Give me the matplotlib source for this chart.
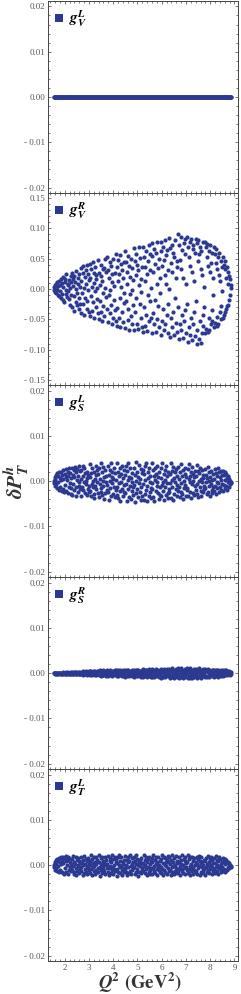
import matplotlib.pyplot as plt
from matplotlib.ticker import MultipleLocator, FuncFormatter

# Q^2 values (GeV^2), shared by all panels
q2 = [
    1.55, 1.56, 1.58, 1.59, 1.61, 1.63, 1.64, 1.66, 1.68, 1.70, 1.71, 1.73, 1.75, 1.77, 1.79, 1.81, 1.83, 1.86, 1.88, 1.90,
    1.92, 1.94, 1.95, 1.98, 2.00, 2.01, 2.04, 2.06, 2.07, 2.10, 2.12, 2.13, 2.15, 2.17, 2.19, 2.21, 2.22, 2.24, 2.26, 2.27,
    2.29, 2.31, 2.33, 2.34, 2.37, 2.39, 2.40, 2.43, 2.45, 2.46, 2.48, 2.50, 2.52, 2.54, 2.55, 2.57, 2.59, 2.61, 2.62, 2.64,
    2.66, 2.68, 2.69, 2.72, 2.74, 2.75, 2.77, 2.79, 2.81, 2.83, 2.84, 2.86, 2.88, 2.90, 2.92, 2.93, 2.95, 2.97, 2.99, 3.01,
    3.03, 3.04, 3.06, 3.08, 3.10, 3.12, 3.13, 3.15, 3.17, 3.19, 3.21, 3.22, 3.24, 3.26, 3.28, 3.30, 3.31, 3.33, 3.35, 3.37,
    3.39, 3.41, 3.42, 3.44, 3.46, 3.48, 3.50, 3.51, 3.53, 3.55, 3.57, 3.59, 3.60, 3.62, 3.64, 3.66, 3.68, 3.69, 3.71, 3.73,
    3.76, 3.77, 3.79, 3.81, 3.83, 3.85, 3.86, 3.88, 3.90, 3.92, 3.94, 3.95, 3.97, 3.99, 4.01, 4.03, 4.04, 4.06, 4.08, 4.10,
    4.12, 4.14, 4.16, 4.17, 4.19, 4.21, 4.23, 4.25, 4.26, 4.28, 4.30, 4.32, 4.34, 4.35, 4.37, 4.39, 4.41, 4.43, 4.44, 4.46,
    4.49, 4.50, 4.52, 4.54, 4.56, 4.58, 4.59, 4.61, 4.63, 4.65, 4.67, 4.68, 4.70, 4.72, 4.74, 4.76, 4.77, 4.79, 4.81, 4.83,
    4.86, 4.87, 4.89, 4.91, 4.93, 4.95, 4.96, 4.98, 5.00, 5.02, 5.04, 5.05, 5.07, 5.09, 5.11, 5.13, 5.14, 5.16, 5.18, 5.20,
    5.23, 5.24, 5.26, 5.28, 5.30, 5.32, 5.33, 5.35, 5.37, 5.39, 5.41, 5.42, 5.44, 5.46, 5.48, 5.50, 5.51, 5.53, 5.55, 5.57,
    5.59, 5.61, 5.62, 5.64, 5.66, 5.68, 5.70, 5.71, 5.73, 5.75, 5.77, 5.79, 5.80, 5.82, 5.84, 5.86, 5.88, 5.89, 5.91, 5.93,
    5.96, 5.97, 5.99, 6.01, 6.03, 6.05, 6.06, 6.08, 6.10, 6.12, 6.14, 6.15, 6.17, 6.19, 6.21, 6.23, 6.24, 6.26, 6.28, 6.30,
    6.32, 6.34, 6.35, 6.37, 6.39, 6.41, 6.43, 6.44, 6.46, 6.48, 6.50, 6.52, 6.53, 6.55, 6.57, 6.59, 6.61, 6.62, 6.64, 6.66,
    6.69, 6.70, 6.72, 6.74, 6.76, 6.78, 6.79, 6.81, 6.83, 6.85, 6.87, 6.88, 6.90, 6.92, 6.94, 6.96, 6.97, 6.99, 7.01, 7.03,
    7.06, 7.07, 7.09, 7.11, 7.13, 7.15, 7.16, 7.18, 7.20, 7.22, 7.24, 7.25, 7.27, 7.29, 7.31, 7.33, 7.34, 7.36, 7.38, 7.40,
    7.42, 7.44, 7.45, 7.47, 7.49, 7.51, 7.53, 7.54, 7.56, 7.58, 7.60, 7.62, 7.63, 7.65, 7.67, 7.69, 7.71, 7.72, 7.74, 7.76,
    7.79, 7.80, 7.82, 7.84, 7.86, 7.88, 7.89, 7.91, 7.93, 7.95, 7.97, 7.98, 8.00, 8.02, 8.04, 8.06, 8.07, 8.09, 8.11, 8.13,
    8.16, 8.17, 8.19, 8.21, 8.23, 8.25, 8.26, 8.28, 8.30, 8.32, 8.34, 8.35, 8.37, 8.39, 8.41, 8.43, 8.44, 8.46, 8.48, 8.50,
    8.52, 8.54, 8.55, 8.57, 8.59, 8.61, 8.63, 8.64, 8.66, 8.68, 8.70, 8.72, 8.73, 8.75, 8.77, 8.79, 8.81, 8.82, 8.84, 8.87,
]

# g_V^L : all points sit on zero
gVL = [0.0] * len(q2)

# g_V^R  (units of 1e-3)
gVR = [
    3, -2, 6, 0, -5, 9, -7, 2, -1, 11, -9, 5, 14, -12, 7, -4, 16, -15, 10, -8,
    20, -18, 4, -22, 12, 17, -8, -1, 24, -13, 9, -4, 6, -16, 15, -26, 1, 21, -10, 11,
    26, -30, 5, 16, -36, -11, 22, 12, -21, 0, 30, -27, -6, 18, 9, -33, 24, -15, 3, -24,
    35, -40, 13, -7, 27, -25, 38, 1, -43, 20, -14, 31, 8, -32, 40, -19, 24, -2, -37, 15,
    42, -44, 18, -11, 33, 4, -36, 44, -22, 27, -47, 10, 37, -4, -29, 16, 23, -17, 1, -40,
    47, -50, 26, -19, 7, 40, -38, 21, -53, 14, 33, -28, -7, 35, -45, 2, 49, -13, 28, -32,
    53, -55, 31, -9, 18, -40, 44, -1, -26, 38, -57, 11, 24, -48, 50, -18, 5, -34, 27, -52,
    58, -60, 36, -31, 13, 48, -47, 24, -14, 56, -63, 4, 41, -38, 31, -54, 18, -23, 45, -6,
    62, -64, 44, -19, 28, 9, -51, 55, -33, 38, -67, 20, -8, 50, -44, 34, -58, -1, 15, -26,
    67, -68, 46, -38, 23, 58, -14, 40, -57, 31, -65, 7, 69, -24, 51, -48, 17, -5, 36, -62,
    70, -70, 52, -29, 37, -60, 13, 62, -43, 25, -69, 46, -10, 72, -53, 32, -19, 57, 2, -47,
    75, -73, 55, -39, 28, 66, -58, 42, -18, 60, -71, 9, 77, -49, 35, -28, 50, -63, 19, -7,
    78, -76, 62, -53, 38, 70, -33, 47, -68, 23, 81, -58, 9, 56, -43, 65, -24, 32, -73, 0,
    84, -79, 67, -48, 43, 73, -63, 28, -38, 59, -76, 52, -14, 80, -56, 18, 46, -70, 36, -29,
    90, -83, 72, -58, 48, 85, -68, 33, -43, 65, -80, 19, 76, -53, 57, -34, 82, -73, 9, -24,
    86, -87, 70, -63, 52, 78, -76, 38, -48, 82, -84, 28, 66, -58, 73, -38, 14, -78, 60, -19,
    83, -90, 75, -68, 46, 80, -83, 58, -53, 70, -88, 33, 63, -73, 23, -43, 77, -60, 4, -29,
    78, -73, 70, -66, 53, 74, -70, 38, -48, 63, -68, 28, 72, -58, 43, -34, 60, -53, 18, -9,
    70, -63, 58, -56, 43, 66, -60, 33, -46, 53, -58, 23, 60, -38, 13, -50, 46, -28, 36, -4,
    52, -48, 40, -43, 33, 46, -38, 18, -33, 36, -28, 8, 28, -26, 22, -18, 16, -10, 6, 1,
]

# g_S^L  (units of 1e-4)
gSL = [
    1, -4, 9, -11, 5, 14, -7, -1, 17, -15, 11, -3, 19, -19, 7, -13, 21, 3, -21, 13,
    24, -18, 5, -25, 16, -8, 26, 10, -22, 2, 20, -27, 12, -12, 28, -4, 18, -28, 7, -15,
    30, -30, 14, -6, 25, -20, 8, 31, -14, 19, -32, 3, 27, -25, 11, -10, 33, -2, 22, -17,
    25, -34, 4, -13, 33, -20, 11, -3, 28, -27, 18, -6, 0, 21, -31, 7, -17, 14, -24, -10,
    37, -22, 9, -33, 17, -6, 29, -14, 1, -37, 21, -29, 5, -10, 33, -18, 13, -2, 25, -26,
    16, -35, 28, -7, 4, -23, 39, -15, 20, -31, 0, -11, 32, -39, 8, -27, 24, -3, 12, -19,
    -8, 33, -24, 13, -41, 1, 25, -16, 40, -32, 9, -4, 21, -28, 5, -12, 29, -36, 17, -20,
    3, -30, 41, -13, 19, -38, 11, -5, 28, -21, -43, 15, -1, 33, -17, 7, -34, 24, -9, -25,
    14, -26, 34, -6, -45, 23, 2, -18, 41, -35, 10, -10, 28, -40, 6, -22, 18, -2, -31, -14,
    -9, 30, -46, 13, 0, -27, 42, -18, 21, -36, 8, -5, 35, -23, 4, -41, 26, -14, 17, -32,
    24, -7, -41, 15, 33, -28, 2, -19, 40, -11, -45, 19, 6, -32, 28, -2, -24, 11, -37, -15,
    -18, 41, -5, 25, -35, 12, -44, 3, 29, -22, 16, -10, -1, 34, -27, 8, -39, 20, -14, -31,
    7, -34, 28, -9, 40, -22, -1, 16, -42, 24, -13, 3, -30, 33, -5, 11, -26, 20, -38, -18,
    -25, 15, -5, 39, -37, 3, 23, -13, -41, 31, 7, -29, 19, -1, -17, 27, -9, 11, -33, -21,
    32, -12, 4, -36, 20, -24, 38, -4, -28, 12, -40, 24, 0, -16, 28, -8, 16, -32, 8, -20,
    -15, 27, -34, 4, 37, -23, 12, -3, -38, 19, -7, 31, -26, 1, 16, -30, 8, -11, 23, -19,
    11, -28, 35, -7, 22, -36, 0, 18, -14, 29, -21, 4, -32, 25, -3, 14, -25, 7, -10, -18,
    -16, 27, -3, 13, -29, 6, 32, -23, 0, -10, 20, -33, 10, -6, 23, -19, 3, -26, 16, -13,
    5, -22, 26, -10, 17, -28, -1, 11, -16, 29, -4, 20, -25, 8, -13, 23, 2, -19, 14, -7,
    23, -22, 13, -9, 19, -16, 3, 16, -11, 7, -19, 11, -1, 9, -14, 5, -7, 1, -5, -3,
]

# g_S^R  (units of 1e-4)
gSR = [
    0, 1, -1, 0, 1, -1, 0, 1, -1, 0, 1, -1, 1, 0, -1, 1, -1, 0, 1, -1,
    1, -1, 2, 0, -2, 1, -1, 2, -2, 0, 1, -1, 2, -2, 1, 0, -1, 2, -2, 1,
    2, -2, 1, -1, 3, -3, 0, 2, -2, 3, -1, 1, -3, 2, 0, -2, 3, -3, 1, -1,
    3, -3, 1, -2, 4, -4, 0, 2, -1, 3, -3, 4, -2, 1, -4, 2, 0, -3, 4, -1,
    4, -4, 2, -2, 5, -5, 0, 3, -1, 4, -3, 5, -4, 1, -5, 2, -2, 4, 0, -3,
    5, -5, 2, -3, 6, -6, 1, 4, -2, 5, -4, 6, -5, 0, 3, -1, 5, -6, 2, -3,
    6, -6, 3, -3, 5, -5, 1, 6, -2, 4, -6, 2, -4, 0, 5, -1, 3, -5, 6, -2,
    7, -7, 3, -4, 6, -6, 1, 5, -2, 7, -5, 2, -3, 4, -7, 0, 6, -1, 3, -6,
    7, -8, 4, -4, 6, -6, 2, 7, -3, 5, -7, 1, -5, 3, -2, 8, -6, 0, 4, -1,
    8, -8, 4, -5, 7, -7, 2, 6, -3, 8, -6, 1, -4, 5, -2, 3, -8, 0, 7, -1,
    9, -9, 5, -5, 7, -7, 2, 8, -3, 6, -8, 1, -4, 9, -6, 3, -2, 4, -9, 0,
    9, -9, 5, -6, 8, -8, 2, 7, -3, 9, -7, 1, -5, 4, -2, 6, -9, 0, 3, -4,
    10, -10, 5, -6, 8, -8, 3, 9, -4, 7, -9, 1, -5, 4, -2, 10, -7, 0, 6, -3,
    10, -10, 6, -6, 8, -9, 2, 11, -4, 7, -10, 1, -5, 4, -3, 9, -8, 0, 5, -2,
    11, -11, 6, -7, 9, -9, 3, 12, -4, 8, -10, 1, -6, 5, -2, 10, -8, 0, 7, -3,
    12, -11, 6, -7, 9, -10, 3, 11, -5, 8, -11, 2, -6, 4, -2, 10, -8, 0, 7, -3,
    10, -10, 5, -6, 8, -9, 2, 11, -4, 7, -10, 1, -5, 4, -2, 9, -7, 0, 6, -3,
    9, -9, 5, -6, 8, -8, 2, 9, -4, 6, -9, 1, -5, 3, -2, 8, -7, 0, 6, -3,
    8, -8, 4, -5, 7, -7, 2, 8, -3, 6, -8, 1, -4, 3, -2, 7, -6, 0, 5, -2,
    7, -6, 4, -4, 6, -5, 2, 6, -3, 5, -5, 1, -3, 3, -1, 4, -4, 0, 3, -2,
]

# g_T^L  (units of 1e-4)
gTL = [
    0, -4, 8, -10, 4, 12, -7, 2, 14, -13, 9, -2, 16, -15, 6, -11, 17, 3, -16, 11,
    19, -17, 5, -19, 13, -7, 20, 9, -14, 1, 17, -20, 11, -10, 15, -3, 7, -12, -5, 3,
    13, -10, 21, -2, -19, 7, -15, 2, 18, -6, -21, 11, -12, 0, 15, -4, 9, -17, 4, -8,
    -5, 18, -13, 7, -22, 11, 0, -18, 21, -9, 2, -15, 14, -2, -20, 9, -7, 16, -11, 5,
    10, -17, 1, 22, -8, -22, 14, -4, 5, -13, 19, -1, -20, 8, -11, 17, 3, -15, 12, -6,
    -16, 8, 22, -4, -23, 15, -11, 3, -18, 19, -2, 10, -9, -13, 5, 17, -20, 1, 12, -6,
    3, -15, 20, -6, -22, 10, -1, 15, -18, 6, -11, 22, -4, 13, -20, 1, -8, 17, -13, 8,
    14, -23, 5, -9, 19, -16, 0, 22, -4, -18, 10, -2, 17, -11, -21, 7, 3, -14, 12, -7,
    -8, 20, -15, 1, 12, -22, 6, -3, 17, -18, 10, -13, 22, -1, -20, 3, 15, -10, 8, -6,
    19, -5, -20, 9, 2, -14, 22, -9, 14, -23, 0, 7, -16, 11, -2, -18, 16, 4, -11, -7,
    -13, 5, 22, -2, -18, 12, 1, -9, 17, -22, 8, -4, 14, -16, 19, -11, 3, -20, 10, -6,
    8, -20, 15, -6, 22, -13, -1, 12, -17, 3, 19, -9, -22, 6, -4, 17, -11, 1, 10, -15,
    -3, 13, -18, 22, -8, 4, -22, 18, -11, 1, 15, -15, 8, -1, -20, 11, -6, 20, 6, -13,
    17, -10, 3, -22, 12, -4, 23, -15, 8, -1, -20, 15, 1, -13, 20, -6, 5, -17, 10, -8,
    -16, 7, 19, -2, -22, 12, -9, 3, 22, -13, 0, -18, 14, -6, 10, -20, 17, -4, 5, -11,
    6, -17, 22, -8, 13, -22, -1, 17, -13, 3, -6, 19, -20, 10, -3, 15, -10, 1, -15, 8,
    -12, 19, 3, -19, 14, -6, 21, -1, -22, 10, 5, -15, 17, -3, 8, -10, 1, -17, 12, -8,
    10, -21, 16, -5, 3, -14, 21, -10, 7, -1, -17, 14, -8, 18, 1, -19, 12, -3, 5, -12,
    -9, 15, -17, 5, 20, -3, 11, -13, 1, -19, 9, -7, 17, -1, 13, -11, 3, -15, 7, -5,
    15, -13, 10, -8, 13, -15, 2, 12, -10, 7, -11, 5, -5, 8, -7, 4, -2, 1, -4, -1,
]

labels = [r'$\mathbfit{g}_{\mathbfit{V}}^{\mathbfit{L}}$', r'$\mathbfit{g}_{\mathbfit{V}}^{\mathbfit{R}}$',
          r'$\mathbfit{g}_{\mathbfit{S}}^{\mathbfit{L}}$', r'$\mathbfit{g}_{\mathbfit{S}}^{\mathbfit{R}}$',
          r'$\mathbfit{g}_{\mathbfit{T}}^{\mathbfit{L}}$']
series = [gVL,
          [v * 1e-3 for v in gVR],
          [v * 1e-4 for v in gSL],
          [v * 1e-4 for v in gSR],
          [v * 1e-4 for v in gTL]]
ylims = [0.0212, 0.158, 0.0212, 0.0212, 0.0212]
ymajor = [0.01, 0.05, 0.01, 0.01, 0.01]

blue = '#2c3991'
frame = '#444444'

plt.rcParams['font.family'] = ['Liberation Serif', 'DejaVu Serif']
plt.rcParams['mathtext.fontset'] = 'stix'


def yfmt(v, pos):
    s = '%.2f' % abs(v)
    if v < -1e-9:
        return '- ' + s
    return s


fig, axes = plt.subplots(5, 1, figsize=(2.41, 9.94), dpi=100, sharex=True)
fig.subplots_adjust(left=0.199, right=0.988, top=0.999, bottom=0.033, hspace=0)

for ax, y, lab, lim, step in zip(axes, series, labels, ylims, ymajor):
    ax.plot(q2, y, 'o', ms=3.0, mew=0, color=blue, label=lab)
    ax.set_xlim(1.31, 9.15)
    ax.set_ylim(-lim, lim)
    ax.xaxis.set_major_locator(MultipleLocator(1))
    ax.xaxis.set_minor_locator(MultipleLocator(0.2))
    ax.yaxis.set_major_locator(MultipleLocator(step))
    ax.yaxis.set_minor_locator(MultipleLocator(step / 5))
    ax.yaxis.set_major_formatter(FuncFormatter(yfmt))
    ax.tick_params(which='both', direction='in', top=True, right=True,
                   width=0.5, color=frame, labelsize=6.5, labelcolor='#555555', pad=2)
    ax.tick_params(which='major', length=2.4)
    ax.tick_params(which='minor', length=1.3)
    for sp in ax.spines.values():
        sp.set_color(frame)
        sp.set_linewidth(0.7)
    ax.legend(loc='upper left', frameon=False, fontsize=11, markerscale=2.0,
              handlelength=0.5, handletextpad=0.4, borderaxespad=0.2,
              borderpad=0.3, numpoints=1)
    for h in ax.get_legend().legend_handles:
        h.set_marker('s')

axes[-1].xaxis.set_major_formatter(FuncFormatter(lambda v, p: '%d' % v))

fig.text(0.066, 0.516, r'$\mathbfit{\delta P}_{\mathbfit{T}}^{\mathbfit{h}}$', rotation=90,
         ha='center', va='center', fontsize=15.5, color='#333333')
fig.text(0.58, 0.011, r'$\mathbfit{Q}^{\mathbf{2}}$ $\mathbf{(GeV^{2})}$',
         ha='center', va='center', fontsize=13.5, color='#333333')

fig.savefig('out.png', dpi=100)
